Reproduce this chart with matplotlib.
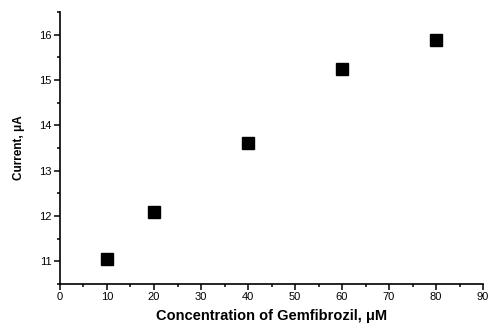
import matplotlib
matplotlib.use("Agg")
import matplotlib.pyplot as plt
from matplotlib.ticker import MultipleLocator

plt.rcParams['font.family'] = ['Liberation Sans', 'DejaVu Sans']

concentration = [10, 20, 40, 60, 80]
current = [11.05, 12.08, 13.6, 15.24, 15.89]

fig = plt.figure(figsize=(4.95, 3.29), dpi=100)
ax = fig.add_axes([0.1212, 0.1368, 0.8546, 0.8267])

ax.plot(concentration, current, linestyle='none', marker='s', markersize=8.6,
        color='black')

ax.set_xlim(0, 90)
ax.set_ylim(10.5, 16.5)
ax.xaxis.set_major_locator(MultipleLocator(10))
ax.xaxis.set_minor_locator(MultipleLocator(5))
ax.yaxis.set_major_locator(MultipleLocator(1))
ax.yaxis.set_minor_locator(MultipleLocator(0.5))

for side in ('top', 'right'):
    ax.spines[side].set_visible(False)
for side in ('left', 'bottom'):
    ax.spines[side].set_linewidth(1.2)

ax.tick_params(which='major', direction='out', length=4, width=1.1, labelsize=8, pad=2)
ax.tick_params(which='minor', direction='out', length=2.5, width=1.1)

ax.set_xlabel('Concentration of Gemfibrozil, \u03bcM', fontsize=10.5, fontweight='bold', labelpad=5)
ax.set_ylabel('Current, \u03bcA', fontsize=8.5, fontweight='bold', labelpad=10)

fig.savefig('out.png', dpi=100)
